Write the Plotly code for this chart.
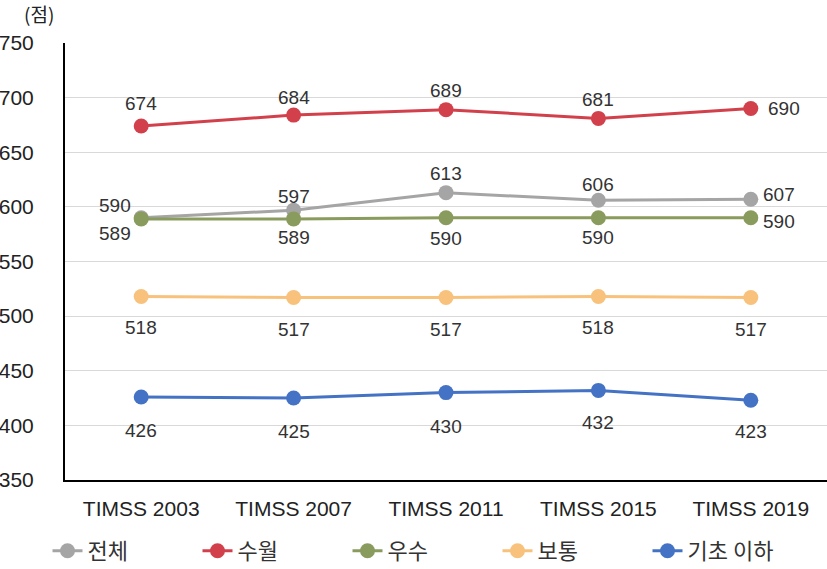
import plotly.graph_objects as go

categories = ["TIMSS 2003", "TIMSS 2007", "TIMSS 2011", "TIMSS 2015", "TIMSS 2019"]
series_names = ["전체", "수월", "우수", "보통", "기초 이하"]
total = [590, 597, 613, 606, 607]
advanced = [674, 684, 689, 681, 690]
high = [589, 589, 590, 590, 590]
intermediate = [518, 517, 517, 518, 517]
low = [426, 425, 430, 432, 423]
y_ticks = [350, 400, 450, 500, 550, 600, 650, 700, 750]
unit_label = "(점)"

values = [total, advanced, high, intermediate, low]
colors = ["#A5A5A5", "#D2404B", "#8A9B5E", "#F8C27C", "#4472C4"]
# label offsets (xshift, yshift) in px per point
label_shifts = [
    [(-26, 12), (0, 14), (0, 19), (0, 16), (28, 5)],
    [(0, 23), (0, 18), (0, 19), (0, 19), (33, 0)],
    [(-26, -15), (0, -19), (0, -21), (0, -20), (28, -4)],
    [(0, -31), (0, -32), (0, -32), (0, -31), (0, -32)],
    [(0, -34), (0, -33), (0, -34), (0, -32), (0, -31)],
]

FONT = "Liberation Sans, Arial, Noto Sans CJK KR, sans-serif"
KFONT = "Noto Sans CJK KR, Liberation Sans, sans-serif"

fig = go.Figure()
annotations = []
for name, vals, col, shifts in zip(series_names, values, colors, label_shifts):
    fig.add_trace(go.Scatter(
        x=categories, y=vals, name=name, mode="lines+markers",
        line=dict(color=col, width=3),
        marker=dict(color=col, size=15),
    ))
    for c, v, (dx, dy) in zip(categories, vals, shifts):
        annotations.append(dict(
            x=c, y=v, xref="x", yref="y", text=str(v), showarrow=False,
            xshift=dx, yshift=dy, font=dict(family=FONT, size=19, color="#333333"),
        ))

annotations.append(dict(
    x=(22 - 65) / 762, y=(480 - 13) / 437, xref="paper", yref="paper",
    text=unit_label, showarrow=False, xanchor="left", yanchor="middle",
    font=dict(family=KFONT, size=19, color="#222222"),
))

fig.update_layout(
    width=827, height=569,
    margin=dict(l=65, r=0, t=43, b=89),
    paper_bgcolor="white", plot_bgcolor="white",
    showlegend=True,
    legend=dict(
        orientation="h", xref="container", yref="container",
        x=0.5 + 9 / 827, xanchor="center", y=1 - 551 / 569, yanchor="middle",
        font=dict(family=KFONT, size=22, color="#333333"),
        entrywidth=105, entrywidthmode="pixels",
    ),
    annotations=annotations,
    xaxis=dict(
        type="category", range=[-0.5, 4.5],
        showline=True, linecolor="black", linewidth=2,
        showgrid=False, ticks="",
        tickfont=dict(family=FONT, size=21, color="#222222"),
        ticklabelstandoff=9,
    ),
    yaxis=dict(
        range=[350, 750], tickvals=y_ticks,
        showline=True, linecolor="black", linewidth=2,
        showgrid=True, gridcolor="#D9D9D9", gridwidth=1,
        zeroline=False, ticks="",
        tickfont=dict(family=FONT, size=21, color="#222222"),
        ticklabelstandoff=25,
    ),
)

fig.write_html("out.html", config={"displayModeBar": False},
               post_script="document.body.style.margin='0';")
